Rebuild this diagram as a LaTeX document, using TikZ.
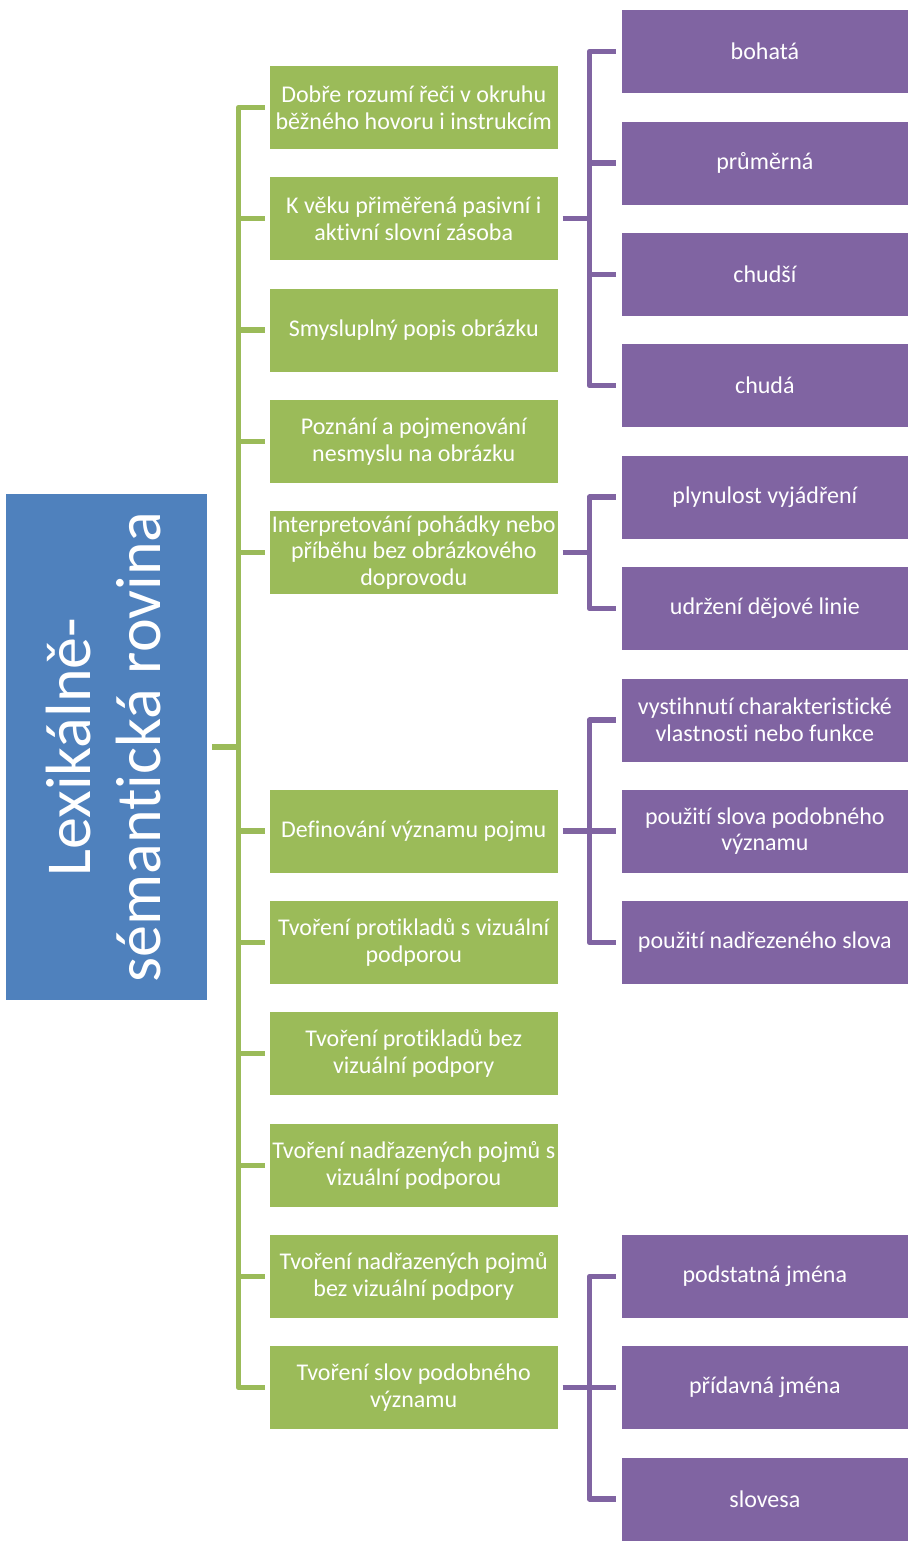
\documentclass[tikz,border=0pt]{standalone}
\usepackage{fontspec}
\setmainfont{Carlito}[Ligatures=NoCommon]
\definecolor{gfill}{HTML}{9BBB59}
\definecolor{pfill}{HTML}{8064A2}
\definecolor{bfill}{HTML}{4F81BD}
\tikzset{
  rootbox/.style={fill=bfill, text=white, minimum width=201pt, minimum height=506pt, inner sep=0pt},
  gbox/.style={fill=gfill, text=white, minimum width=287.5pt, minimum height=83pt, inner sep=0pt, align=center,
    font=\fontsize{24}{26.7}\selectfont},
  pbox/.style={fill=pfill, text=white, minimum width=286.5pt, minimum height=83pt, inner sep=0pt, align=center,
    font=\fontsize{24}{26.7}\selectfont},
  gline/.style={draw=gfill, line width=5.5pt, line join=round},
  pline/.style={draw=pfill, line width=5.5pt, line join=round}
}
\begin{document}
\begin{tikzpicture}[x=1pt,y=-1pt]
\useasboundingbox (0,0) rectangle (910,1542);

% root
\node[rootbox] (root) at (106.5,747) {};
\node[text=white, rotate=90, align=center, font=\fontsize{64}{70}\selectfont] (roottxt) at ([xshift=-3pt]root.center)
  {Lexikálně-\\sémantická rovina};

% first level
\node[gbox] (g1)  at (413.75,107.5)  {Dobře rozumí řeči v okruhu\\běžného hovoru i instrukcím};
\node[gbox] (g2)  at (413.75,218.5)  {K věku přiměřená pasivní i\\aktivní slovní zásoba};
\node[gbox] (g3)  at (413.75,330)    {Smysluplný popis obrázku};
\node[gbox] (g4)  at (413.75,441.5)  {Poznání a pojmenování\\nesmyslu na obrázku};
\node[gbox] (g5)  at (413.75,552.5)  {Interpretování pohádky nebo\\příběhu bez obrázkového\\doprovodu};
\node[gbox] (g6)  at (413.75,831)    {Definování významu pojmu};
\node[gbox] (g7)  at (413.75,942.5)  {Tvoření protikladů s vizuální\\podporou};
\node[gbox] (g8)  at (413.75,1053.5) {Tvoření protikladů bez\\vizuální podpory};
\node[gbox] (g9)  at (413.75,1165.5) {Tvoření nadřazených pojmů s\\vizuální podporou};
\node[gbox] (g10) at (413.75,1276.5) {Tvoření nadřazených pojmů\\bez vizuální podpory};
\node[gbox] (g11) at (413.75,1387.5) {Tvoření slov podobného\\významu};

% second level
\node[pbox] (p1)  at (764.85,51.5)   {bohatá};
\node[pbox] (p2)  at (764.85,163)    {průměrná};
\node[pbox] (p3)  at (764.85,274.5)  {chudší};
\node[pbox] (p4)  at (764.85,385.5)  {chudá};
\node[pbox] (p5)  at (764.85,497)    {plynulost vyjádření};
\node[pbox] (p6)  at (764.85,608.5)  {udržení dějové linie};
\node[pbox] (p7)  at (764.85,720)    {vystihnutí charakteristické\\vlastnosti nebo funkce};
\node[pbox] (p8)  at (764.85,831)    {použití slova podobného\\významu};
\node[pbox] (p9)  at (764.85,942.5)  {použití nadřezeného slova};
\node[pbox] (p10) at (764.85,1276.5) {podstatná jména};
\node[pbox] (p11) at (764.85,1387.5) {přídavná jména};
\node[pbox] (p12) at (764.85,1499)   {slovesa};

% green spine
\coordinate (gs) at (238.5,747);
\draw[gline] ([xshift=5pt]root.east) -- (gs);
\foreach \g in {g1,g2,g3,g4,g5,g6,g7,g8,g9,g10,g11}
  \draw[gline] ([xshift=-5pt]\g.west) -| (gs);

% purple brackets
\coordinate (ps1) at (589.5,218.5);
\coordinate (ps2) at (589.5,552.5);
\coordinate (ps3) at (589.5,831);
\coordinate (ps4) at (589.5,1387.5);
\draw[pline] ([xshift=5pt]g2.east) -- (ps1);
\draw[pline] ([xshift=5pt]g5.east) -- (ps2);
\draw[pline] ([xshift=5pt]g6.east) -- (ps3);
\draw[pline] ([xshift=5pt]g11.east) -- (ps4);
\foreach \p in {p1,p2,p3,p4}
  \draw[pline] ([xshift=-5.5pt]\p.west) -| (ps1);
\foreach \p in {p5,p6}
  \draw[pline] ([xshift=-5.5pt]\p.west) -| (ps2);
\foreach \p in {p7,p8,p9}
  \draw[pline] ([xshift=-5.5pt]\p.west) -| (ps3);
\foreach \p in {p10,p11,p12}
  \draw[pline] ([xshift=-5.5pt]\p.west) -| (ps4);
\end{tikzpicture}
\end{document}
